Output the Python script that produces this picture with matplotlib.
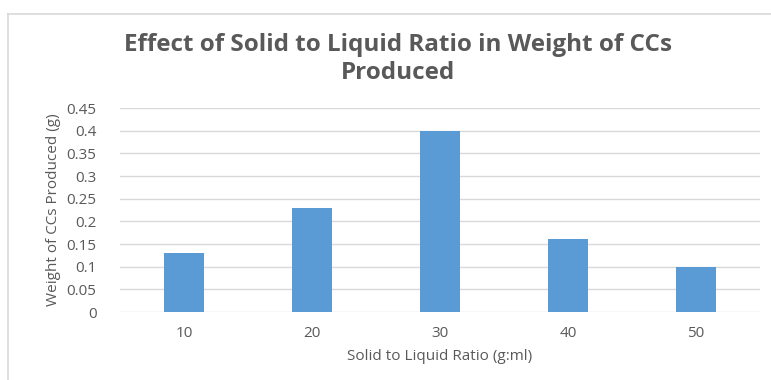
import matplotlib
matplotlib.use("Agg")
import matplotlib.pyplot as plt
from matplotlib.lines import Line2D

categories = ["10", "20", "30", "40", "50"]
values = [0.13, 0.23, 0.40, 0.16, 0.10]
yticks = [0, 0.05, 0.1, 0.15, 0.2, 0.25, 0.3, 0.35, 0.4, 0.45]
ytick_labels = ["0", "0.05", "0.1", "0.15", "0.2", "0.25", "0.3", "0.35", "0.4", "0.45"]

plt.rcParams['font.family'] = ['Open Sans', 'DejaVu Sans']
W, H = 771, 380
fig = plt.figure(figsize=(W/100, H/100), dpi=100)
fig.patch.set_facecolor('white')

ax = fig.add_axes([120/W, 1-312/H, 640/W, 204/H])
x = range(len(categories))
ax.bar(x, values, width=0.3125, color='#5B9BD5', zorder=3)
ax.set_xlim(-0.5, len(categories)-0.5)
ax.set_ylim(0, 0.45)
ax.set_yticks(yticks)
ax.set_yticklabels(ytick_labels)
ax.set_xticks(list(x))
ax.set_xticklabels(categories)
ax.grid(axis='y', color='#D9D9D9', linewidth=1, zorder=0)
for s in ax.spines.values():
    s.set_visible(False)
ax.tick_params(length=0, colors='#595959', labelsize=11)
ax.tick_params(axis='x', pad=10)
ax.tick_params(axis='y', pad=17)
ax.set_xlabel('Solid to Liquid Ratio (g:ml)', color='#595959', fontsize=11, labelpad=6)
ax.set_ylabel('Weight of CCs Produced (g)', color='#595959', fontsize=11, labelpad=4)

fig.text(398/W, 1-59/H, 'Effect of Solid to Liquid Ratio in Weight of CCs\nProduced',
         ha='center', va='center', fontsize=17.5, fontweight='bold', color='#595959',
         linespacing=1.25)

fig.add_artist(Line2D([8/W, 8/W], [0, 1-14/H], color='#D9D9D9', linewidth=1.2, transform=fig.transFigure))
fig.add_artist(Line2D([8/W, 1], [1-14/H, 1-14/H], color='#D9D9D9', linewidth=1.2, transform=fig.transFigure))

fig.savefig('out.png', dpi=100)
